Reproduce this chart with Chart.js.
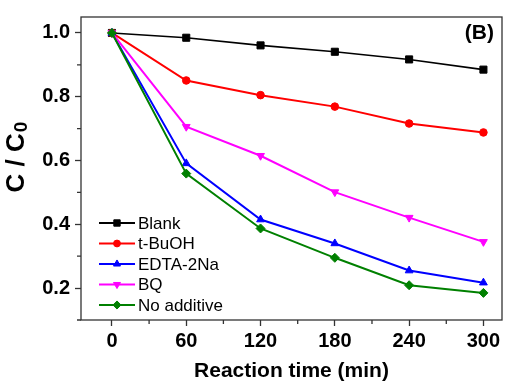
<!DOCTYPE html>
<html>
<head>
<meta charset="utf-8">
<script src="https://cdn.jsdelivr.net/npm/chart.js@4.4.0/dist/chart.umd.min.js"></script>
<style>
  html, body { margin: 0; padding: 0; background: #fff; }
  #wrap { width: 518px; height: 384px; }
</style>
</head>
<body>
<div id="wrap"><canvas id="chart"></canvas></div>
<script>
const times = [0, 60, 120, 180, 240, 300];
const blank = [1.0, 0.985, 0.961, 0.941, 0.917, 0.885];
const tBuOH = [1.0, 0.851, 0.805, 0.769, 0.716, 0.688];
const edta = [1.0, 0.591, 0.415, 0.340, 0.255, 0.217];
const bq = [1.0, 0.706, 0.615, 0.501, 0.421, 0.345];
const noAdditive = [1.0, 0.559, 0.387, 0.295, 0.209, 0.185];
const seriesNames = ["Blank", "t-BuOH", "EDTA-2Na", "BQ", "No additive"];
const xTicks = [0, 30, 60, 90, 120, 150, 180, 210, 240, 270, 300];
const yTicks = [0.1, 0.2, 0.3, 0.4, 0.5, 0.6, 0.7, 0.8, 0.9, 1.0];

const FONT = "'Liberation Sans', Arial, sans-serif";
const colors = ["#000000", "#ff0000", "#0000ff", "#ff00ff", "#008000"];
const styles = [
  { pointStyle: "rect", radius: 5, rotation: 0 },
  { pointStyle: "circle", radius: 3.8, rotation: 0 },
  { pointStyle: "triangle", radius: 4.5, rotation: 0 },
  { pointStyle: "triangle", radius: 4.5, rotation: 180 },
  { pointStyle: "rectRot", radius: 4.5, rotation: 0 },
];
const allSeries = [blank, tBuOH, edta, bq, noAdditive];

const datasets = allSeries.map((vals, i) => ({
  label: seriesNames[i],
  data: times.map((t, j) => ({ x: t, y: vals[j] })),
  borderColor: colors[i],
  backgroundColor: colors[i],
  borderWidth: i === 0 ? 1.6 : 2,
  pointStyle: styles[i].pointStyle,
  pointRadius: styles[i].radius,
  pointRotation: styles[i].rotation,
  pointBorderWidth: 1,
  tension: 0,
  order: allSeries.length - i,
}));

const framePlugin = {
  id: "frame",
  beforeDatasetsDraw(chart) {
    const { ctx, chartArea: a, scales } = chart;
    ctx.save();
    ctx.strokeStyle = "#333";
    ctx.lineWidth = 1.3;
    ctx.strokeRect(a.left, a.top, a.right - a.left, a.bottom - a.top);
    // minor ticks
    ctx.beginPath();
    xTicks.forEach(v => {
      if (v % 60 !== 0) {
        const px = scales.x.getPixelForValue(v);
        ctx.moveTo(px, a.bottom);
        ctx.lineTo(px, a.bottom + 4);
      }
    });
    yTicks.forEach(v => {
      if (Math.round(v * 10) % 2 !== 0) {
        const py = scales.y.getPixelForValue(v);
        ctx.moveTo(a.left, py);
        ctx.lineTo(a.left - 4, py);
      }
    });
    ctx.stroke();
    ctx.restore();
  },
  afterDraw(chart) {
    const { ctx } = chart;
    ctx.save();
    // legend
    chart.data.datasets.forEach((ds, i) => {
      const y = 223 + i * 20.5;
      ctx.strokeStyle = ds.borderColor;
      ctx.fillStyle = ds.borderColor;
      ctx.lineWidth = 2;
      ctx.beginPath();
      ctx.moveTo(99, y);
      ctx.lineTo(135, y);
      ctx.stroke();
      ctx.lineWidth = 1;
      Chart.helpers.drawPoint(ctx, {
        pointStyle: ds.pointStyle,
        radius: ds.pointRadius * 0.9,
        rotation: ds.pointRotation,
        borderWidth: 1,
      }, 117, y);
      ctx.fillStyle = "#000";
      ctx.font = "17px " + FONT;
      ctx.textBaseline = "middle";
      ctx.textAlign = "left";
      ctx.fillText(ds.label, 138, y + 1);
    });
    // panel label
    ctx.fillStyle = "#000";
    ctx.font = "bold 21px " + FONT;
    ctx.textAlign = "right";
    ctx.textBaseline = "middle";
    ctx.fillText("(B)", 494, 33);

    // y axis title: C / C0 with lowered 0
    const main = "C / C";
    const sub = "0";
    const mainFont = "bold 26px " + FONT;
    const subFont = "bold 19px " + FONT;
    ctx.font = mainFont;
    const w1 = ctx.measureText(main).width;
    ctx.font = subFont;
    const w2 = ctx.measureText(sub).width;
    const total = w1 + w2 + 1;
    ctx.translate(24, 157 + total / 2);
    ctx.rotate(-Math.PI / 2);
    ctx.textAlign = "left";
    ctx.textBaseline = "alphabetic";
    ctx.font = mainFont;
    ctx.fillText(main, 0, 0);
    ctx.font = subFont;
    ctx.fillText(sub, w1 + 1, 3);
    ctx.restore();
  },
};

new Chart("chart", {
  type: "line",
  data: { datasets },
  options: {
    responsive: true,
    maintainAspectRatio: false,
    animation: false,
    layout: { padding: { left: 0, right: 16, top: 11, bottom: 0 } },
    plugins: { legend: { display: false }, tooltip: { enabled: false } },
    scales: {
      x: {
        type: "linear",
        min: -25,
        max: 315,
        afterBuildTicks: s => { s.ticks = xTicks.map(v => ({ value: v })); },
        afterFit: s => { s.height = 64; },
        grid: {
          drawOnChartArea: false,
          drawTicks: true,
          tickLength: 6,
          tickWidth: 1.3,
          tickColor: c => (c.tick && c.tick.value % 60 === 0 ? "#333" : "rgba(0,0,0,0)"),
        },
        border: { display: false },
        ticks: {
          color: "#000",
          padding: 3,
          maxRotation: 0,
          autoSkip: false,
          font: { family: FONT, size: 20, weight: "bold" },
          callback: v => (v % 60 === 0 ? String(v) : ""),
        },
        title: {
          display: true,
          text: "Reaction time (min)",
          color: "#000",
          padding: { top: 0, bottom: 0 },
          font: { family: FONT, size: 21, weight: "bold" },
        },
      },
      y: {
        min: 0.1,
        max: 1.05,
        afterBuildTicks: s => { s.ticks = yTicks.map(v => ({ value: v })); },
        afterFit: s => { s.width = 81; },
        grid: {
          drawOnChartArea: false,
          drawTicks: true,
          tickLength: 6,
          tickWidth: 1.3,
          tickColor: c => (c.tick && Math.round(c.tick.value * 10) % 2 === 0 ? "#333" : "rgba(0,0,0,0)"),
        },
        border: { display: false },
        ticks: {
          color: "#000",
          padding: 5,
          autoSkip: false,
          font: { family: FONT, size: 20, weight: "bold" },
          callback: v => (Math.round(v * 10) % 2 === 0 ? v.toFixed(1) : ""),
        },
        title: { display: false },
      },
    },
  },
  plugins: [framePlugin],
});
</script>
</body>
</html>
